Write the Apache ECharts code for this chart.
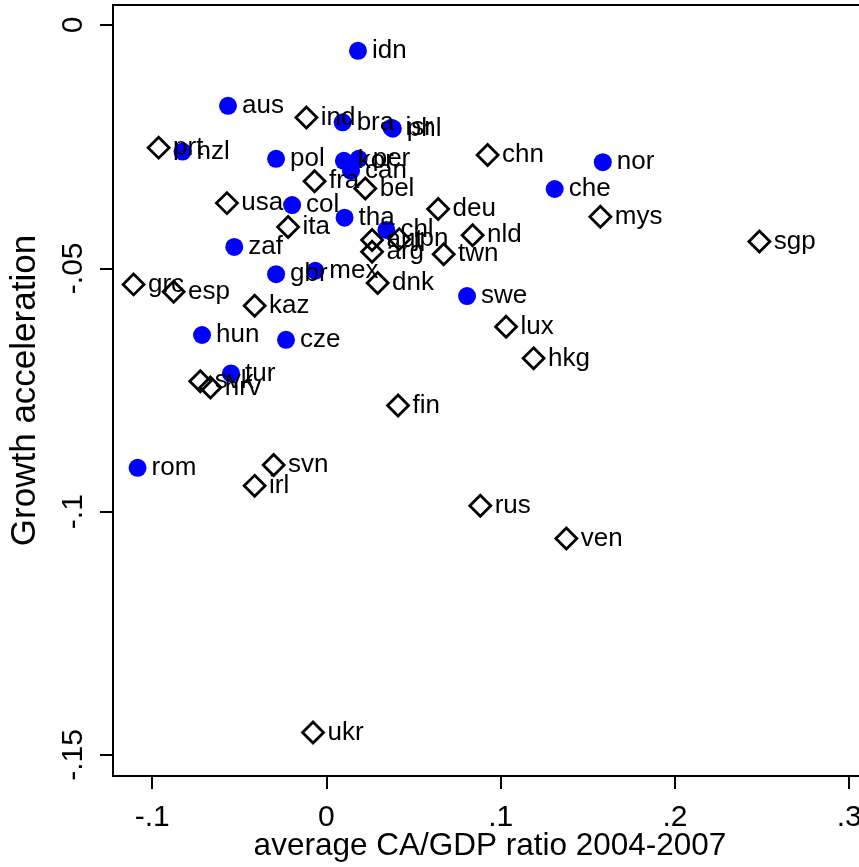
<!DOCTYPE html>
<html>
<head>
<meta charset="utf-8">
<script src="https://cdn.jsdelivr.net/npm/echarts@6/dist/echarts.min.js"></script>
<style>
  html, body { margin: 0; padding: 0; background: #fff; }
  #chart { width: 859px; height: 867px; }
</style>
</head>
<body>
<div id="chart"></div>
<script>
// circles (blue, filled)
var blueNames = ['idn', 'aus', 'bra', 'isr', 'phl', 'nzl', 'pol', 'kor', 'per', 'can', 'col', 'tha',
  'chl', 'zaf', 'gbr', 'mex', 'swe', 'nor', 'che', 'hun', 'cze', 'tur', 'rom'];
var blueCA = [0.0181, -0.0565, 0.0093, 0.0373, 0.0381, -0.0826, -0.0289, 0.0100, 0.0185, 0.0141, -0.0197, 0.0104,
  0.0344, -0.0529, -0.0289, -0.0064, 0.0807, 0.1586, 0.1310, -0.0714, -0.0232, -0.0548, -0.1084];
var blueGrowth = [-0.0053, -0.0166, -0.0200, -0.0211, -0.0213, -0.0260, -0.0275, -0.0279, -0.0275, -0.0300, -0.0370, -0.0396,
  -0.0421, -0.0456, -0.0512, -0.0505, -0.0557, -0.0282, -0.0337, -0.0637, -0.0647, -0.0716, -0.0910];

// diamonds (hollow)
var diamondNames = ['prt', 'ind', 'fra', 'bel', 'usa', 'ita', 'deu', 'aut', 'arg', 'jpn', 'twn', 'nld',
  'dnk', 'grc', 'esp', 'kaz', 'svk', 'hrv', 'fin', 'svn', 'irl', 'ukr', 'chn', 'mys', 'sgp', 'lux', 'hkg', 'rus', 'ven'];
var diamondCA = [-0.0963, -0.0115, -0.0068, 0.0223, -0.0571, -0.0220, 0.0641, 0.0262, 0.0262, 0.0418, 0.0673, 0.0839,
  0.0294, -0.1107, -0.0877, -0.0412, -0.0724, -0.0666, 0.0411, -0.0303, -0.0412, -0.0077, 0.0925, 0.1572, 0.2485, 0.1031, 0.1189, 0.0883, 0.1377];
var diamondGrowth = [-0.0252, -0.0190, -0.0321, -0.0336, -0.0366, -0.0415, -0.0378, -0.0442, -0.0466, -0.0440, -0.0471, -0.0432,
  -0.0530, -0.0533, -0.0548, -0.0577, -0.0732, -0.0745, -0.0782, -0.0904, -0.0947, -0.1454, -0.0267, -0.0394, -0.0445, -0.0620, -0.0685, -0.0988, -0.1055];

var xTickValues = [-0.1, 0, 0.1, 0.2, 0.3];
var xTickLabels = ['-.1', '0', '.1', '.2', '.3'];
var yTickValues = [-0.15, -0.1, -0.05, 0];
var yTickLabels = ['-.15', '-.1', '-.05', '0'];

var FONT = '"Liberation Sans", Arial, Helvetica, sans-serif';

function zip(xs, ys, names) {
  return xs.map(function (x, i) { return [x, ys[i], names[i]]; });
}
function tickLabel(values, labels) {
  return function (v) {
    for (var i = 0; i < values.length; i++) {
      if (Math.abs(values[i] - v) < 1e-9) return labels[i];
    }
    return '';
  };
}

var labelStyle = {
  show: true,
  position: 'right',
  color: '#000',
  fontSize: 26,
  fontFamily: FONT,
  formatter: function (p) { return p.value[2]; }
};

var myChart = echarts.init(document.getElementById('chart'), null, { renderer: 'canvas' });
myChart.setOption({
  backgroundColor: '#fff',
  animation: false,
  grid: {
    left: 113,
    top: 5,
    width: 771,
    height: 771,
    outerBoundsMode: 'none',
    containLabel: false,
    show: true,
    borderColor: '#000',
    borderWidth: 2
  },
  xAxis: {
    type: 'value',
    min: -0.1225,
    max: 0.32,
    name: 'average CA/GDP ratio 2004-2007',
    nameLocation: 'middle',
    nameGap: 54,
    nameMoveOverlap: false,
    // title is centred on the whole graph, a bit left of the plot middle
    nameTextStyle: { fontSize: 31.5, fontFamily: FONT, color: '#000', padding: [0, 17, 0, 0] },
    axisLine: { onZero: false, lineStyle: { color: '#000', width: 2 } },
    axisTick: { length: 13, lineStyle: { color: '#000', width: 2 }, customValues: xTickValues },
    axisLabel: {
      margin: 27, fontSize: 30, fontFamily: FONT, color: '#000',
      customValues: xTickValues,
      formatter: tickLabel(xTickValues, xTickLabels)
    },
    splitLine: { show: false }
  },
  yAxis: {
    type: 'value',
    min: -0.15432,
    max: 0.00411,
    name: 'Growth acceleration',
    nameLocation: 'middle',
    nameGap: 70,
    nameMoveOverlap: false,
    nameRotate: 90,
    nameTextStyle: { fontSize: 35, fontFamily: FONT, color: '#000' },
    axisLine: { onZero: false, lineStyle: { color: '#000', width: 2 } },
    axisTick: { length: 13, lineStyle: { color: '#000', width: 2 }, customValues: yTickValues },
    axisLabel: {
      margin: 24, rotate: 90, fontSize: 30, fontFamily: FONT, color: '#000',
      customValues: yTickValues,
      formatter: tickLabel(yTickValues, yTickLabels)
    },
    splitLine: { show: false }
  },
  series: [{
    name: 'circles',
    type: 'scatter',
    symbol: 'circle',
    symbolSize: 18,
    itemStyle: { color: '#0000ff', opacity: 1 },
    label: Object.assign({}, labelStyle, { distance: 5 }),
    emphasis: { disabled: true },
    data: zip(blueCA, blueGrowth, blueNames)
  }, {
    name: 'diamonds',
    type: 'scatter',
    symbol: 'diamond',
    symbolSize: 21,
    itemStyle: { color: 'rgba(0,0,0,0)', borderColor: '#000', borderWidth: 2.8, opacity: 1 },
    label: Object.assign({}, labelStyle, { distance: 2.5 }),
    emphasis: { disabled: true },
    data: zip(diamondCA, diamondGrowth, diamondNames)
  }]
});
</script>
</body>
</html>
